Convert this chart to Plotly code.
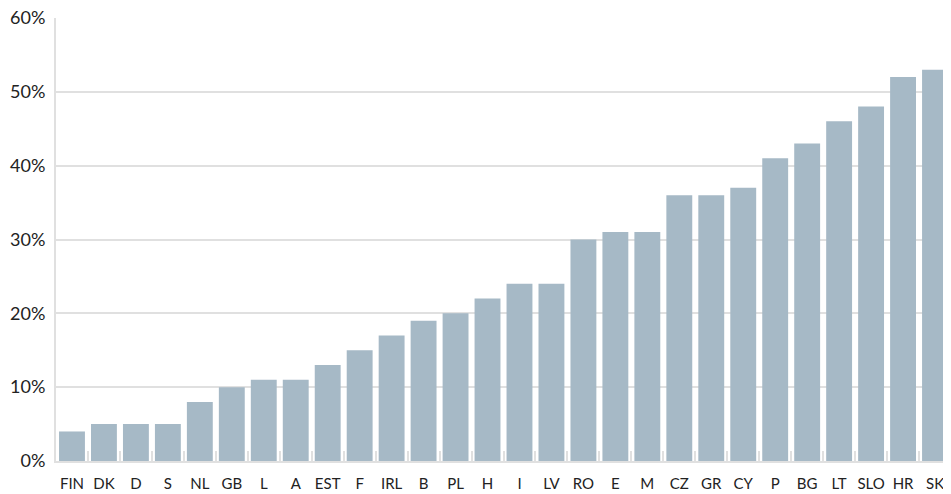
import plotly.graph_objects as go

countries = ["FIN", "DK", "D", "S", "NL", "GB", "L", "A", "EST", "F", "IRL", "B", "PL", "H",
             "I", "LV", "RO", "E", "M", "CZ", "GR", "CY", "P", "BG", "LT", "SLO", "HR", "SK"]
shares = [4, 5, 5, 5, 8, 10, 11, 11, 13, 15, 17, 19, 20, 22,
          24, 24, 30, 31, 31, 36, 36, 37, 41, 43, 46, 48, 52, 53]
y_ticks = [0, 10, 20, 30, 40, 50, 60]

BAR_COLOR = "#a6b9c6"
GRID_COLOR = "#e0e0e0"

fig = go.Figure()
fig.add_trace(go.Bar(
    x=countries,
    y=shares,
    marker=dict(color=BAR_COLOR, line_width=0),
    hovertemplate="%{x}: %{y}%<extra></extra>",
))

# page body adds an 8px offset, so the figure is sized to fit inside the window
fig.update_layout(
    width=943, height=486,
    margin=dict(l=48, r=0, t=10, b=33),
    plot_bgcolor="white",
    paper_bgcolor="white",
    bargap=0.19,
    showlegend=False,
    font=dict(family="Lato, sans-serif", color="#222"),
)
fig.update_xaxes(
    showgrid=False, automargin=False, tickangle=0,
    showline=True, linecolor=GRID_COLOR, linewidth=2,
    ticks="inside", tickson="boundaries", ticklen=10, tickcolor=GRID_COLOR, tickwidth=2,
    ticklabelstandoff=8,
    tickfont=dict(size=15),
)
fig.update_yaxes(
    range=[0, 60], automargin=False,
    tickvals=y_ticks,
    ticktext=[f"{v}%" for v in y_ticks],
    showgrid=True, gridcolor=GRID_COLOR, gridwidth=1.5,
    showline=True, linecolor=GRID_COLOR, linewidth=2,
    zeroline=False,
    ticks="", ticklabelstandoff=5, ticklabeloverflow="allow",
    tickfont=dict(size=18),
)

fig.write_html("out.html")
